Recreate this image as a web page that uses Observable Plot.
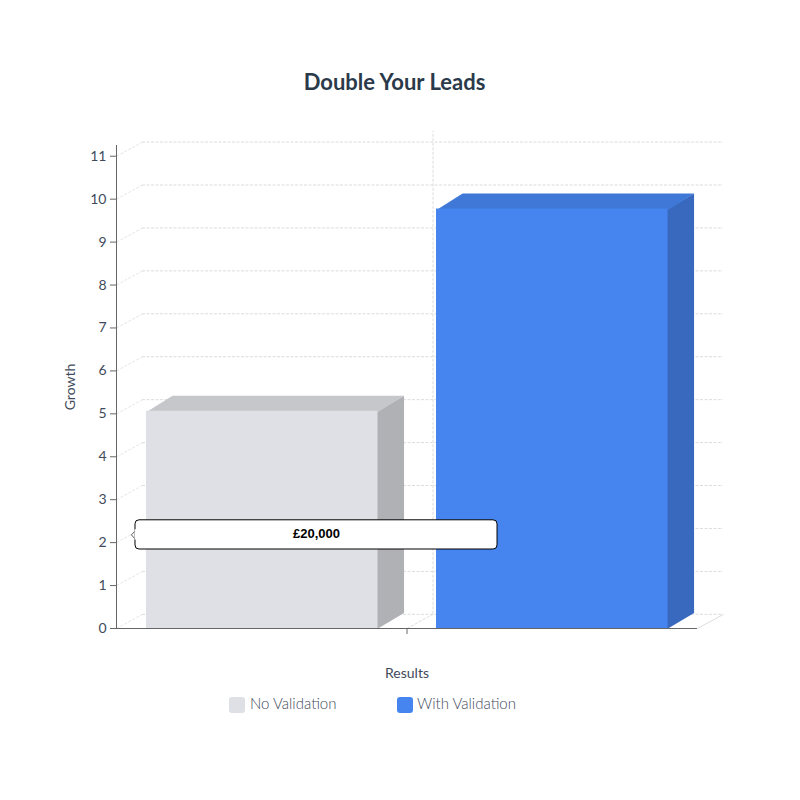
<!DOCTYPE html>
<html>
<head>
<meta charset="utf-8">
<style>
  html, body { margin: 0; padding: 0; background: #fff; }
  #chart { width: 800px; font-family: Lato, sans-serif; }
  h2 { margin: 0; height: 110px; width: 789px; text-align: center; font: 700 22px/164px Lato, sans-serif; color: #2b3a4a; }
  svg { display: block; }
  #legend { position: relative; height: 40px; font: 300 15px Lato, sans-serif; color: #3f4b5b; }
  #legend span.sw { position: absolute; top: 7px; width: 16px; height: 16px; border-radius: 3px; }
  #legend span.lb { position: absolute; top: 4px; line-height: 18px; }
</style>
<script src="https://cdn.jsdelivr.net/npm/d3@7"></script>
<script src="https://cdn.jsdelivr.net/npm/@observablehq/plot@0.6"></script>
</head>
<body>
<div id="chart"></div>
<script>
const title = "Double Your Leads";
const xLabel = "Results";
const yLabel = "Growth";
const series = ["No Validation", "With Validation"];
const values = [5.06, 9.77];
const frontColors = ["#dfe0e5", "#4685ef"];
const topColors = ["#c6c7cb", "#3f78d7"];
const sideColors = ["#b0b1b5", "#3869bf"];
const yTicks = [0, 1, 2, 3, 4, 5, 6, 7, 8, 9, 10, 11];
const tooltipText = "£20,000";
const tooltipValue = 2.18;

// layout in scale units: x runs 0..1 across the category, y in growth units
const barStart = [0.0516, 0.5508];
const barWidth = 0.3985;
const depthX = 0.0448;
const depthY = 0.33;
const barDepthY = 0.36;
const overlap = 0.002;
const yMax = 11.25;

const bars = series.map((s, i) => ({
  s, v: values[i], x1: barStart[i], x2: barStart[i] + barWidth,
  front: frontColors[i], top: topColors[i], side: sideColors[i]
}));
const polygon = (pts, fill) => Plot.line(pts, {x: "x", y: "y", fill, stroke: "none", curve: "linear"});
const topFace = b => [{x: b.x1, y: b.v - 0.02}, {x: b.x1 + depthX, y: b.v + barDepthY}, {x: b.x2 + depthX, y: b.v + barDepthY}, {x: b.x2, y: b.v - 0.02}];
const sideFace = b => [{x: b.x2 - overlap, y: 0}, {x: b.x2, y: 0}, {x: b.x2 + depthX, y: barDepthY}, {x: b.x2 + depthX, y: b.v + barDepthY}, {x: b.x2, y: b.v}, {x: b.x2 - overlap, y: b.v}];

const gridStyle = {stroke: "#dcdcdc", strokeWidth: 1, strokeDasharray: "3 1.5"};
const wallSegs = yTicks.map(t => ({x1: depthX, x2: 1 + depthX, y: t + depthY}));
const sideSegs = yTicks.map(t => ({x1: 0, y1: t, x2: depthX, y2: t + depthY}));

const tipX1 = 0.0327, tipX2 = 0.6558, tipH = 0.34;

const plot = Plot.plot({
  width: 800,
  height: 580,
  marginLeft: 116,
  marginRight: 103,
  marginTop: 35,
  marginBottom: 62,
  style: {fontFamily: "Lato, sans-serif", fontSize: "14px", color: "#3f4b5b", background: "#fff", overflow: "visible"},
  x: {domain: [0, 1], axis: null},
  y: {domain: [0, yMax], axis: null},
  marks: [
    Plot.ruleY(wallSegs, {x1: "x1", x2: "x2", y: "y", ...gridStyle}),
    Plot.link(sideSegs, {x1: "x1", y1: "y1", x2: "x2", y2: "y2", stroke: "#e6e6e6", strokeDasharray: "3 1.5"}),
    Plot.ruleX([0.5 + depthX], {y1: depthY, y2: yMax + depthY, ...gridStyle}),
    Plot.link([{}], {x1: () => 0.5, y1: () => 0, x2: () => 0.5 + depthX, y2: () => depthY, ...gridStyle}),
    Plot.link([{}], {x1: () => 1, y1: () => 0, x2: () => 1 + depthX, y2: () => depthY, stroke: "#dddddd"}),
    ...bars.flatMap(b => [
      polygon(sideFace(b), b.side),
      polygon(topFace(b), b.top),
      Plot.rect([b], {x1: "x1", x2: "x2", y1: () => 0, y2: "v", fill: "front"})
    ]),
    Plot.axisY({ticks: yTicks, tickSize: 6, tickPadding: 4, tickFormat: d => d, label: yLabel, labelAnchor: "center", labelArrow: "none", labelOffset: 51, fontSize: 14, stroke: "#666"}),
    Plot.axisX({ticks: [0.5], tickSize: 6, tickFormat: () => "", label: xLabel, labelAnchor: "center", labelArrow: "none", labelOffset: 49, fontSize: 14, stroke: "#666"}),
    Plot.ruleX([0], {stroke: "#666", strokeWidth: 1}),
    Plot.ruleY([0], {stroke: "#666", strokeWidth: 1}),
    Plot.line([{x: tipX1 + 0.001, y: tooltipValue + 0.12}, {x: tipX1 - 0.007, y: tooltipValue}, {x: tipX1 + 0.001, y: tooltipValue - 0.12}], {x: "x", y: "y", fill: "#fff", stroke: "#333", strokeWidth: 0.8}),
    Plot.rect([{}], {x1: () => tipX1, x2: () => tipX2, y1: () => tooltipValue - tipH, y2: () => tooltipValue + tipH, fill: "#fff", stroke: "#000", strokeWidth: 1, rx: 4}),
    Plot.ruleX([tipX1], {y1: tooltipValue - 0.12, y2: tooltipValue + 0.12, stroke: "#fff", strokeWidth: 2}),
    Plot.text([tooltipText], {x: (tipX1 + tipX2) / 2, y: tooltipValue + 0.03, text: d => d, fontFamily: "'Liberation Sans', Arial, sans-serif", fontWeight: 700, fontSize: 13, fill: "#000"})
  ]
});

const chart = document.getElementById("chart");
const h = document.createElement("h2");
h.textContent = title;
chart.append(h, plot);

const legend = document.createElement("div");
legend.id = "legend";
[[229, 250], [397, 417]].forEach(([sx, lx], i) => {
  const sw = document.createElement("span");
  sw.className = "sw"; sw.style.left = sx + "px"; sw.style.background = frontColors[i];
  const lb = document.createElement("span");
  lb.className = "lb"; lb.style.left = lx + "px"; lb.textContent = series[i];
  legend.append(sw, lb);
});
chart.append(legend);
</script>
</body>
</html>
